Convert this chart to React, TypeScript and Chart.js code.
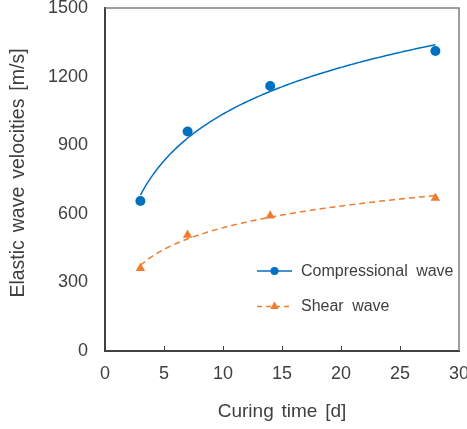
import { useEffect, useRef } from "react";
import { Chart, registerables } from "chart.js";

Chart.register(...registerables);

// Measured elastic wave velocities versus curing time
const curingDays = [3, 7, 14, 28];
const compressionalVelocity = [656, 960, 1159, 1312];
const shearVelocity = [362, 507, 592, 669];

const seriesNames = ["Compressional wave", "Shear wave"];
const xTickValues = [0, 5, 10, 15, 20, 25, 30];
const yTickValues = [0, 300, 600, 900, 1200, 1500];
const xAxisTitle = "Curing time [d]";
const yAxisTitle = "Elastic wave velocities [m/s]";

const BLUE = "#0070C0";
const ORANGE = "#ED7D31";
const TEXT = "#404040";
const FONT = '"Liberation Sans", Arial, sans-serif';

// Least-squares logarithmic trend line: v = a + b ln(t)
function logTrend(xs: number[], ys: number[], steps = 120) {
  const lx = xs.map((x) => Math.log(x));
  const n = xs.length;
  const mx = lx.reduce((s, v) => s + v, 0) / n;
  const my = ys.reduce((s, v) => s + v, 0) / n;
  let sxy = 0;
  let sxx = 0;
  for (let i = 0; i < n; i++) {
    sxy += (lx[i] - mx) * (ys[i] - my);
    sxx += (lx[i] - mx) * (lx[i] - mx);
  }
  const b = sxy / sxx;
  const a = my - b * mx;
  const x0 = Math.min(...xs);
  const x1 = Math.max(...xs);
  const pts: { x: number; y: number }[] = [];
  for (let i = 0; i <= steps; i++) {
    const x = x0 + ((x1 - x0) * i) / steps;
    pts.push({ x, y: a + b * Math.log(x) });
  }
  return pts;
}

const toPoints = (xs: number[], ys: number[]) => xs.map((x, i) => ({ x, y: ys[i] }));

const framePlugin = {
  id: "frameAndLegend",
  beforeDraw(chart: any) {
    chart.ctx.wordSpacing = "2.5px";
  },
  afterDraw(chart: any) {
    const { ctx, chartArea: ca } = chart;
    const xScale = chart.scales.x;
    ctx.save();

    // vertical axis title
    ctx.save();
    ctx.translate(19, ca.top + 165);
    ctx.rotate(-Math.PI / 2);
    ctx.fillStyle = TEXT;
    ctx.font = `19.5px ${FONT}`;
    ctx.textAlign = "center";
    ctx.textBaseline = "middle";
    ctx.wordSpacing = "2.5px";
    ctx.fillText(yAxisTitle, 0, 0);
    ctx.restore();

    ctx.wordSpacing = "0px";

    // top and right frame
    ctx.strokeStyle = "#7f7f7f";
    ctx.lineWidth = 1.5;
    ctx.beginPath();
    ctx.moveTo(ca.left, ca.top);
    ctx.lineTo(ca.right, ca.top);
    ctx.lineTo(ca.right, ca.bottom);
    ctx.stroke();

    // inward tick marks on the time axis
    ctx.strokeStyle = "#404040";
    ctx.lineWidth = 1;
    for (const v of xTickValues) {
      if (v <= xScale.min || v >= xScale.max) continue;
      const px = Math.round(xScale.getPixelForValue(v)) + 0.5;
      ctx.beginPath();
      ctx.moveTo(px, ca.bottom);
      ctx.lineTo(px, ca.bottom - 5);
      ctx.stroke();
    }

    // legend inside the plot area
    const rows = [
      { name: seriesNames[0], color: BLUE, dash: [] as number[], marker: "circle" },
      { name: seriesNames[1], color: ORANGE, dash: [5, 4], marker: "triangle" },
    ];
    rows.forEach((row, i) => {
      const y = ca.top + 263 + i * 35.5;
      const x0 = ca.left + 152;
      const x1 = ca.left + 187;
      const xm = (x0 + x1) / 2;
      ctx.strokeStyle = row.color;
      ctx.lineWidth = 1.5;
      ctx.setLineDash(row.dash);
      ctx.beginPath();
      ctx.moveTo(x0, y);
      ctx.lineTo(x1, y);
      ctx.stroke();
      ctx.setLineDash([]);
      ctx.fillStyle = row.color;
      ctx.beginPath();
      if (row.marker === "circle") {
        ctx.arc(xm, y, 4, 0, Math.PI * 2);
      } else {
        const r = 5;
        ctx.moveTo(xm, y - r);
        ctx.lineTo(xm + r * 0.866, y + r / 2);
        ctx.lineTo(xm - r * 0.866, y + r / 2);
        ctx.closePath();
      }
      ctx.fill();
      ctx.fillStyle = TEXT;
      ctx.font = `16px ${FONT}`;
      ctx.textBaseline = "middle";
      ctx.textAlign = "left";
      ctx.wordSpacing = "4px";
      ctx.fillText(row.name, ca.left + 196, y + 0.5);
      ctx.wordSpacing = "0px";
    });
    ctx.restore();
  },
};

export default function App() {
  const canvasRef = useRef<HTMLCanvasElement>(null);

  useEffect(() => {
    const canvas = canvasRef.current;
    if (!canvas) return;
    const chart = new Chart(canvas, {
      type: "scatter",
      data: {
        datasets: [
          {
            label: seriesNames[0],
            data: toPoints(curingDays, compressionalVelocity),
            showLine: false,
            pointStyle: "circle",
            pointRadius: 5,
            pointBackgroundColor: BLUE,
            pointBorderColor: BLUE,
            pointBorderWidth: 0,
            order: 0,
          },
          {
            label: seriesNames[1],
            data: toPoints(curingDays, shearVelocity),
            showLine: false,
            pointStyle: "triangle",
            pointRadius: 5.5,
            pointBackgroundColor: ORANGE,
            pointBorderColor: ORANGE,
            pointBorderWidth: 0,
            order: 1,
          },
          {
            label: "trend-compressional",
            data: logTrend(curingDays, compressionalVelocity),
            showLine: true,
            borderColor: BLUE,
            borderWidth: 1.5,
            pointRadius: 0,
            tension: 0,
            order: 2,
          },
          {
            label: "trend-shear",
            data: logTrend(curingDays, shearVelocity),
            showLine: true,
            borderColor: ORANGE,
            borderWidth: 1.5,
            borderDash: [6, 4],
            pointRadius: 0,
            tension: 0,
            order: 3,
          },
        ],
      },
      options: {
        responsive: false,
        devicePixelRatio: 1,
        animation: false,
        events: [],
        layout: { padding: { top: 8, right: 8, bottom: 0, left: 0 } },
        plugins: {
          legend: { display: false },
          tooltip: { enabled: false },
        },
        scales: {
          x: {
            type: "linear",
            min: 0,
            max: 30,
            afterBuildTicks: (s: any) => {
              s.ticks = xTickValues.map((v) => ({ value: v }));
            },
            afterFit: (s: any) => {
              s.height = 78;
              s.paddingLeft = 0;
              s.paddingRight = 0;
            },
            grid: { display: false, drawTicks: false },
            border: { display: true, color: "#404040", width: 2 },
            ticks: {
              padding: 12,
              color: TEXT,
              font: { family: FONT, size: 18 },
              maxRotation: 0,
              callback: (v: any) => String(v),
            },
            title: {
              display: true,
              text: xAxisTitle,
              color: TEXT,
              font: { family: FONT, size: 19 },
              padding: { top: 0, bottom: 6 },
            },
          },
          y: {
            type: "linear",
            min: 0,
            max: 1500,
            afterBuildTicks: (s: any) => {
              s.ticks = yTickValues.map((v) => ({ value: v }));
            },
            afterFit: (s: any) => {
              s.width = 105;
              s.paddingTop = 0;
              s.paddingBottom = 0;
            },
            grid: { display: false, drawTicks: false },
            border: { display: true, color: "#404040", width: 2 },
            ticks: {
              padding: 17,
              color: TEXT,
              font: { family: FONT, size: 18 },
              callback: (v: any) => String(v),
            },
            title: { display: false },
          },
        },
      },
      plugins: [framePlugin],
    } as any);
    return () => chart.destroy();
  }, []);

  return (
    <div
      style={{
        position: "fixed",
        left: 0,
        top: 0,
        width: 467,
        height: 429,
        background: "#ffffff",
      }}
    >
      <canvas
        ref={canvasRef}
        width={467}
        height={429}
        style={{ display: "block", width: 467, height: 429 }}
      />
    </div>
  );
}
